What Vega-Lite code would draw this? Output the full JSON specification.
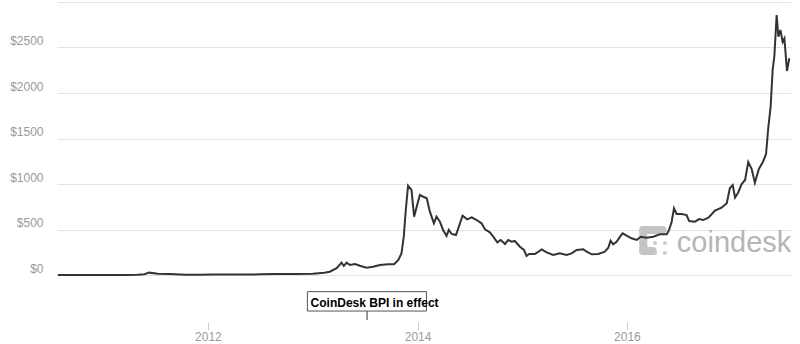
{
  "$schema": "https://vega.github.io/schema/vega-lite/v6.json",
  "width": 734,
  "height": 273,
  "autosize": {"type": "none"},
  "padding": {"left": 57, "top": 2, "right": 9, "bottom": 69},
  "background": "white",
  "config": {
    "view": {"stroke": null},
    "font": "Liberation Sans"
  },
  "datasets": {
    "price": [
      {"date": "2010-07-27", "price": 0.07},
      {"date": "2010-10-15", "price": 0.1},
      {"date": "2011-01-15", "price": 0.4},
      {"date": "2011-03-15", "price": 0.9},
      {"date": "2011-05-01", "price": 3.5},
      {"date": "2011-05-25", "price": 8},
      {"date": "2011-06-10", "price": 26},
      {"date": "2011-07-10", "price": 14},
      {"date": "2011-08-20", "price": 10},
      {"date": "2011-10-15", "price": 4},
      {"date": "2011-12-01", "price": 3},
      {"date": "2012-01-20", "price": 6},
      {"date": "2012-04-15", "price": 5},
      {"date": "2012-07-01", "price": 7},
      {"date": "2012-08-20", "price": 11},
      {"date": "2012-11-01", "price": 11},
      {"date": "2013-01-01", "price": 13},
      {"date": "2013-02-10", "price": 24},
      {"date": "2013-03-01", "price": 36},
      {"date": "2013-03-25", "price": 74},
      {"date": "2013-04-11", "price": 135},
      {"date": "2013-04-19", "price": 99},
      {"date": "2013-04-29", "price": 135},
      {"date": "2013-05-10", "price": 110},
      {"date": "2013-05-28", "price": 121},
      {"date": "2013-06-14", "price": 102},
      {"date": "2013-07-07", "price": 80},
      {"date": "2013-07-30", "price": 91},
      {"date": "2013-08-23", "price": 110},
      {"date": "2013-09-21", "price": 118},
      {"date": "2013-10-11", "price": 118},
      {"date": "2013-10-26", "price": 165},
      {"date": "2013-11-06", "price": 238},
      {"date": "2013-11-14", "price": 421},
      {"date": "2013-11-21", "price": 714},
      {"date": "2013-11-29", "price": 981},
      {"date": "2013-12-11", "price": 934},
      {"date": "2013-12-20", "price": 641},
      {"date": "2013-12-29", "price": 751},
      {"date": "2014-01-09", "price": 879},
      {"date": "2014-01-21", "price": 860},
      {"date": "2014-02-02", "price": 843},
      {"date": "2014-02-13", "price": 696},
      {"date": "2014-02-27", "price": 568},
      {"date": "2014-03-08", "price": 641},
      {"date": "2014-03-20", "price": 586},
      {"date": "2014-03-31", "price": 495},
      {"date": "2014-04-12", "price": 429},
      {"date": "2014-04-20", "price": 495},
      {"date": "2014-04-30", "price": 451},
      {"date": "2014-05-15", "price": 440},
      {"date": "2014-06-07", "price": 652},
      {"date": "2014-06-23", "price": 612},
      {"date": "2014-07-09", "price": 634},
      {"date": "2014-07-26", "price": 604},
      {"date": "2014-08-12", "price": 568},
      {"date": "2014-08-24", "price": 502},
      {"date": "2014-09-10", "price": 469},
      {"date": "2014-09-22", "price": 421},
      {"date": "2014-10-06", "price": 359},
      {"date": "2014-10-18", "price": 385},
      {"date": "2014-11-02", "price": 341},
      {"date": "2014-11-13", "price": 385},
      {"date": "2014-11-25", "price": 366},
      {"date": "2014-12-06", "price": 374},
      {"date": "2014-12-24", "price": 311},
      {"date": "2015-01-07", "price": 275},
      {"date": "2015-01-16", "price": 209},
      {"date": "2015-01-25", "price": 231},
      {"date": "2015-02-14", "price": 231},
      {"date": "2015-03-10", "price": 282},
      {"date": "2015-03-27", "price": 249},
      {"date": "2015-04-19", "price": 220},
      {"date": "2015-05-12", "price": 238},
      {"date": "2015-06-05", "price": 220},
      {"date": "2015-06-22", "price": 238},
      {"date": "2015-07-10", "price": 275},
      {"date": "2015-08-02", "price": 282},
      {"date": "2015-08-14", "price": 256},
      {"date": "2015-08-31", "price": 227},
      {"date": "2015-09-23", "price": 231},
      {"date": "2015-10-16", "price": 256},
      {"date": "2015-10-28", "price": 300},
      {"date": "2015-11-05", "price": 377},
      {"date": "2015-11-14", "price": 337},
      {"date": "2015-11-26", "price": 366},
      {"date": "2015-12-08", "price": 421},
      {"date": "2015-12-17", "price": 458},
      {"date": "2015-12-31", "price": 432},
      {"date": "2016-01-17", "price": 403},
      {"date": "2016-02-04", "price": 385},
      {"date": "2016-02-18", "price": 421},
      {"date": "2016-03-10", "price": 410},
      {"date": "2016-04-02", "price": 421},
      {"date": "2016-04-25", "price": 447},
      {"date": "2016-05-19", "price": 447},
      {"date": "2016-05-27", "price": 495},
      {"date": "2016-06-05", "price": 586},
      {"date": "2016-06-13", "price": 733},
      {"date": "2016-06-22", "price": 670},
      {"date": "2016-07-10", "price": 670},
      {"date": "2016-07-27", "price": 659},
      {"date": "2016-08-05", "price": 593},
      {"date": "2016-08-25", "price": 586},
      {"date": "2016-09-09", "price": 615},
      {"date": "2016-09-23", "price": 604},
      {"date": "2016-10-11", "price": 630},
      {"date": "2016-11-03", "price": 707},
      {"date": "2016-11-26", "price": 740},
      {"date": "2016-12-14", "price": 788},
      {"date": "2016-12-25", "price": 956},
      {"date": "2017-01-04", "price": 989},
      {"date": "2017-01-12", "price": 852},
      {"date": "2017-01-23", "price": 907},
      {"date": "2017-02-04", "price": 1000},
      {"date": "2017-02-16", "price": 1044},
      {"date": "2017-02-27", "price": 1242},
      {"date": "2017-03-11", "price": 1165},
      {"date": "2017-03-22", "price": 1014},
      {"date": "2017-04-05", "price": 1165},
      {"date": "2017-04-19", "price": 1242},
      {"date": "2017-04-30", "price": 1330},
      {"date": "2017-05-08", "price": 1626},
      {"date": "2017-05-16", "price": 1850},
      {"date": "2017-05-23", "price": 2253},
      {"date": "2017-05-29", "price": 2407},
      {"date": "2017-06-06", "price": 2857},
      {"date": "2017-06-12", "price": 2619},
      {"date": "2017-06-19", "price": 2693},
      {"date": "2017-06-27", "price": 2561},
      {"date": "2017-07-03", "price": 2599},
      {"date": "2017-07-12", "price": 2242},
      {"date": "2017-07-20", "price": 2382}
    ],
    "logoBars": [
      {"date": "2016-02-27", "date2": "2016-05-04", "price": 495, "price2": 495},
      {"date": "2016-02-27", "date2": "2016-02-27", "price": 495, "price2": 264},
      {"date": "2016-02-27", "date2": "2016-03-31", "price": 264, "price2": 264}
    ],
    "logoDots": [
      {"date": "2016-04-08", "price": 352},
      {"date": "2016-05-12", "price": 352},
      {"date": "2016-04-08", "price": 242},
      {"date": "2016-05-12", "price": 242}
    ],
    "watermark": [
      {"date": "2016-06-23", "price": 253, "label": "coindesk"}
    ],
    "box": [
      {"date": "2012-12-13", "date2": "2014-02-01", "price": -183, "price2": -396}
    ],
    "boxTick": [
      {"date": "2013-07-09", "price": -396, "price2": -495}
    ],
    "boxText": [
      {"date": "2012-12-24", "price": -306, "label": "CoinDesk BPI in effect"}
    ]
  },
  "layer": [
    {
      "data": {"name": "price"},
      "mark": {"type": "line", "color": "#333333", "strokeWidth": 2, "opacity": 0},
      "encoding": {
        "x": {
          "field": "date", "type": "temporal",
          "scale": {"domain": ["2010-07-24", "2017-07-26"]},
          "axis": {
            "title": null,
            "orient": "bottom",
            "offset": 47,
            "domain": false,
            "grid": false,
            "values": [{"year": 2012, "month": 1, "date": 1}, {"year": 2014, "month": 1, "date": 1}, {"year": 2016, "month": 1, "date": 1}],
            "format": "%Y",
            "tickColor": "#cccccc",
            "tickSize": 8,
            "labelPadding": 1,
            "labelColor": "#999999",
            "labelFontSize": 12,
            "labelFont": "Liberation Sans"
          }
        },
        "y": {
          "field": "price", "type": "quantitative",
          "scale": {"domain": [0, 3000], "nice": false},
          "axis": {
            "title": null,
            "values": [0, 500, 1000, 1500, 2000, 2500, 3000],
            "labelExpr": "datum.value >= 3000 ? '' : '$' + datum.value",
            "domain": false,
            "ticks": false,
            "grid": true,
            "gridColor": "#e3e3e3",
            "gridWidth": 1,
            "labelPadding": 14,
            "labelBaseline": "bottom",
            "labelColor": "#999999",
            "labelFontSize": 12,
            "labelFont": "Liberation Sans"
          }
        }
      }
    },
    {
      "data": {"name": "logoBars"},
      "mark": {"type": "rule", "color": "#c4c4c4", "strokeWidth": 8, "strokeCap": "round"},
      "encoding": {
        "x": {"field": "date", "type": "temporal"},
        "x2": {"field": "date2"},
        "y": {"field": "price", "type": "quantitative"},
        "y2": {"field": "price2"}
      }
    },
    {
      "data": {"name": "logoDots"},
      "mark": {"type": "circle", "color": "#cccccc", "opacity": 1, "size": 16},
      "encoding": {
        "x": {"field": "date", "type": "temporal"},
        "y": {"field": "price", "type": "quantitative"}
      }
    },
    {
      "data": {"name": "watermark"},
      "mark": {"type": "text", "align": "left", "baseline": "alphabetic", "fontSize": 29, "color": "#b5b5b5", "font": "Liberation Sans"},
      "encoding": {
        "x": {"field": "date", "type": "temporal"},
        "y": {"field": "price", "type": "quantitative"},
        "text": {"field": "label"}
      }
    },
    {
      "data": {"name": "price"},
      "mark": {"type": "line", "color": "#333333", "strokeWidth": 2},
      "encoding": {
        "x": {"field": "date", "type": "temporal"},
        "y": {"field": "price", "type": "quantitative"}
      }
    },
    {
      "data": {"name": "boxTick"},
      "mark": {"type": "rule", "color": "#333333", "strokeWidth": 1},
      "encoding": {
        "x": {"field": "date", "type": "temporal"},
        "y": {"field": "price", "type": "quantitative"},
        "y2": {"field": "price2"}
      }
    },
    {
      "data": {"name": "box"},
      "mark": {"type": "rect", "fill": "white", "stroke": "#555555", "strokeWidth": 1},
      "encoding": {
        "x": {"field": "date", "type": "temporal"},
        "x2": {"field": "date2"},
        "y": {"field": "price", "type": "quantitative"},
        "y2": {"field": "price2"}
      }
    },
    {
      "data": {"name": "boxText"},
      "mark": {"type": "text", "align": "left", "baseline": "middle", "fontSize": 12, "fontWeight": "bold", "color": "#000000", "font": "Liberation Sans"},
      "encoding": {
        "x": {"field": "date", "type": "temporal"},
        "y": {"field": "price", "type": "quantitative"},
        "text": {"field": "label"}
      }
    }
  ]
}
